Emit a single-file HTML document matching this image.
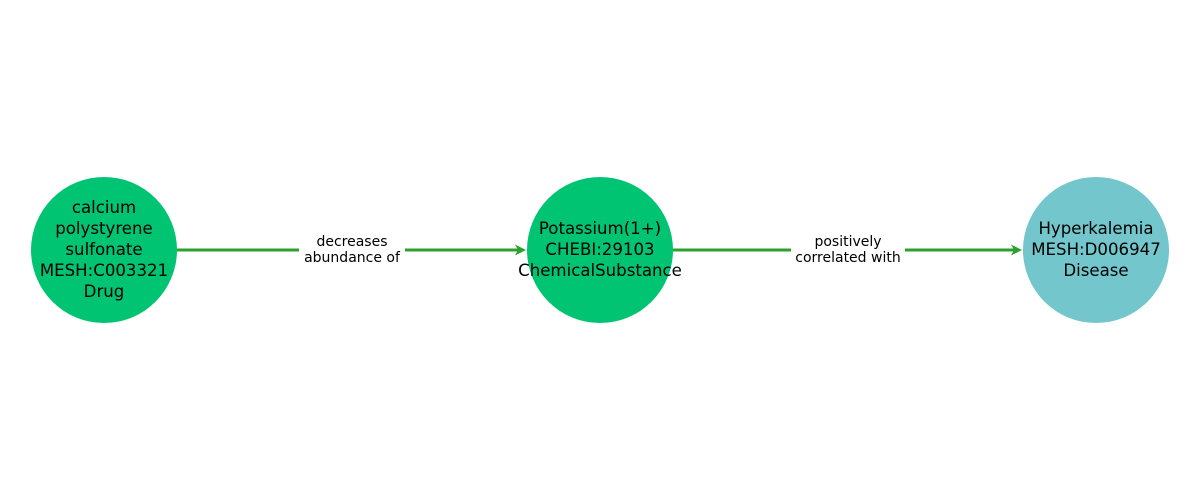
<!DOCTYPE html>
<html><head><meta charset="utf-8"><style>
html,body{margin:0;padding:0;background:#fff;width:1200px;height:500px;overflow:hidden}
</style></head><body>
<svg width="1200" height="500" xmlns="http://www.w3.org/2000/svg" font-family="DejaVu Sans, Liberation Sans, sans-serif">
<line x1="177" y1="250" x2="520" y2="250" stroke="#2ca02c" stroke-width="3"/>
<polygon points="526,250 515,244.5 518,250 515,255.5" fill="#2ca02c"/>
<line x1="673" y1="250" x2="1016" y2="250" stroke="#2ca02c" stroke-width="3"/>
<polygon points="1022,250 1011,244.5 1014,250 1011,255.5" fill="#2ca02c"/>
<rect x="299" y="234" width="106" height="32" fill="#fff"/>
<rect x="791" y="234" width="114" height="32" fill="#fff"/>
<g font-size="14" text-anchor="middle" fill="#000">
<text x="352" y="246">decreases</text>
<text x="352" y="262">abundance of</text>
<text x="848" y="246">positively</text>
<text x="848" y="262">correlated with</text>
</g>
<circle cx="104" cy="250" r="73" fill="#00c472"/>
<circle cx="600" cy="250" r="73" fill="#00c472"/>
<circle cx="1096" cy="250" r="73" fill="#72c6cc"/>
<g font-size="16.6" text-anchor="middle" fill="#000">
<text x="104" y="213">calcium</text>
<text x="104" y="234">polystyrene</text>
<text x="104" y="255">sulfonate</text>
<text x="104" y="276">MESH:C003321</text>
<text x="104" y="297">Drug</text>
<text x="600" y="234">Potassium(1+)</text>
<text x="600" y="255">CHEBI:29103</text>
<text x="600" y="276">ChemicalSubstance</text>
<text x="1096" y="234">Hyperkalemia</text>
<text x="1096" y="255">MESH:D006947</text>
<text x="1096" y="276">Disease</text>
</g>
</svg>
</body></html>
